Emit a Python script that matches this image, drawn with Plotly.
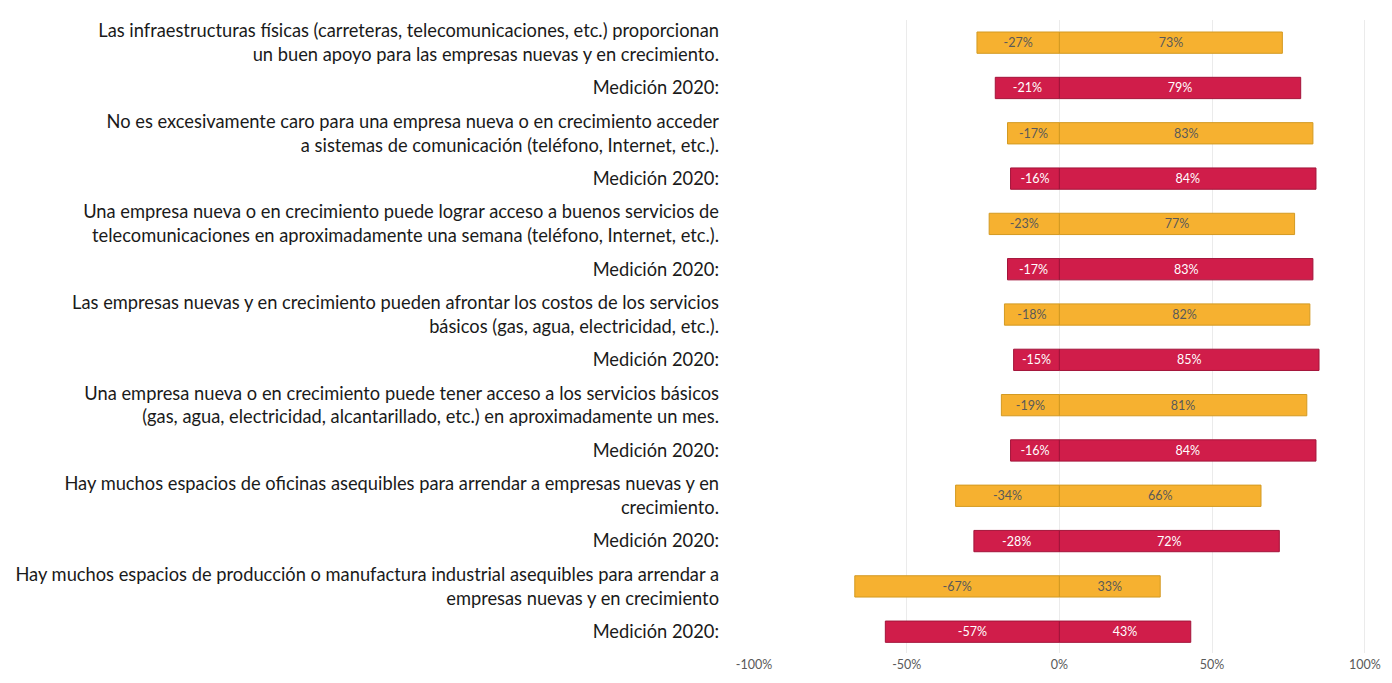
import plotly.graph_objects as go

statements = [
    "Las infraestructuras físicas (carreteras, telecomunicaciones, etc.) proporcionan<br>un buen apoyo para las empresas nuevas y en crecimiento.",
    "No es excesivamente caro para una empresa nueva o en crecimiento acceder<br>a sistemas de comunicación (teléfono, Internet, etc.).",
    "Una empresa nueva o en crecimiento puede lograr acceso a buenos servicios de<br>telecomunicaciones en aproximadamente una semana (teléfono, Internet, etc.).",
    "Las empresas nuevas y en crecimiento pueden afrontar los costos de los servicios<br>básicos (gas, agua, electricidad, etc.).",
    "Una empresa nueva o en crecimiento puede tener acceso a los servicios básicos<br>(gas, agua, electricidad, alcantarillado, etc.) en aproximadamente un mes.",
    "Hay muchos espacios de oficinas asequibles para arrendar a empresas nuevas y en<br>crecimiento.",
    "Hay muchos espacios de producción o manufactura industrial asequibles para arrendar a<br>empresas nuevas y en crecimiento",
]
label_2020 = "Medición 2020:"

# current measurement (orange)
neg_now = [-27, -17, -23, -18, -19, -34, -67]
pos_now = [73, 83, 77, 82, 81, 66, 33]
# 2020 measurement (crimson)
neg_2020 = [-21, -16, -17, -15, -16, -28, -57]
pos_2020 = [79, 84, 83, 85, 84, 72, 43]

x_ticks = [-100, -50, 0, 50, 100]

labels = []
for s in statements:
    labels += [s, label_2020]
rows = list(range(len(labels)))
rows_now = rows[0::2]
rows_2020 = rows[1::2]

ORANGE = "#F6B130"
ORANGE_EDGE = "#D39A22"
CRIMSON = "#D01D4A"
CRIMSON_EDGE = "#A3143A"

fig = go.Figure()

def add_bars(vals, ys, color, edge, txtcolor):
    fig.add_trace(go.Bar(
        x=vals, y=ys, orientation="h",
        marker=dict(color=color, line=dict(color=edge, width=1)),
        text=[f"{v}%" for v in vals], textposition="inside",
        insidetextanchor="middle",
        textfont=dict(color=txtcolor, size=12.5, family="Lato"),
        width=0.47, hoverinfo="skip", showlegend=False,
    ))

add_bars(neg_now, rows_now, ORANGE, ORANGE_EDGE, "#595959")
add_bars(pos_now, rows_now, ORANGE, ORANGE_EDGE, "#595959")
add_bars(neg_2020, rows_2020, CRIMSON, CRIMSON_EDGE, "white")
add_bars(pos_2020, rows_2020, CRIMSON, CRIMSON_EDGE, "white")

# page has an 8px body margin, so the figure is sized to fit inside it
fig.update_layout(
    width=1384, height=667,
    barmode="relative",
    plot_bgcolor="white", paper_bgcolor="white",
    margin=dict(l=746, r=18, t=12, b=22, autoexpand=False),
    font=dict(family="Lato", color="#1a1a1a"),
    uniformtext=dict(minsize=8, mode="show"),
    xaxis=dict(
        range=[-100, 103], tickvals=x_ticks,
        ticktext=[f"{t}%" for t in x_ticks],
        tickfont=dict(size=12.5, color="#595959"),
        showgrid=True, gridcolor="#ebebeb", gridwidth=1,
        zeroline=True, zerolinecolor="#ebebeb", zerolinewidth=1,
        showline=False, ticks="", ticklabelstandoff=2,
        automargin=False,
    ),
    yaxis=dict(
        range=[13.47, -0.5], tickvals=rows, ticktext=labels,
        tickfont=dict(size=18.3, color="#1a1a1a"),
        showgrid=False, zeroline=False, showline=False, ticks="",
        ticklabelstandoff=34, automargin=False,
    ),
)

fig.write_html("out.html")
